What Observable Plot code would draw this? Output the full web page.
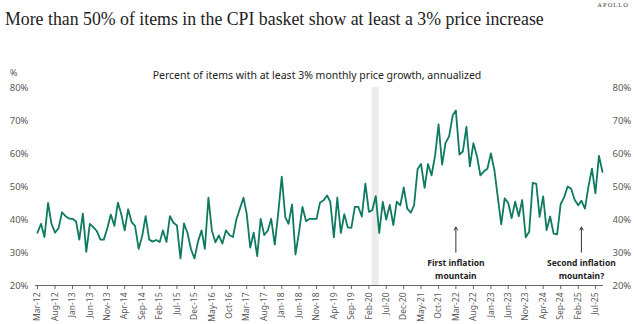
<!DOCTYPE html>
<html><head><meta charset="utf-8">
<script src="https://cdn.jsdelivr.net/npm/d3@7"></script>
<script src="https://cdn.jsdelivr.net/npm/@observablehq/plot@0.6"></script>
<style>
body{margin:0;background:#fff;}
#wrap{position:relative;width:634px;height:324px;overflow:hidden;background:#fff;}
.t{position:absolute;white-space:nowrap;}
#chart{position:absolute;left:0;top:0;}
</style></head><body>
<div id="wrap">
<div id="chart"></div>
<div class="t" style="left:5px;top:9px;font-family:'Liberation Serif',serif;font-size:17.8px;color:#222;">More than 50% of items in the CPI basket show at least a 3% price increase</div>
<div class="t" style="right:5px;top:1px;font-family:'Liberation Serif',serif;font-size:6.5px;letter-spacing:1px;color:#444;">APOLLO</div>
<div class="t" style="left:10px;top:66px;font-family:'Noto Sans',sans-serif;font-size:9px;color:#595959;">%</div>
<div class="t" style="left:0;width:634px;text-align:center;top:68px;font-family:'Noto Sans',sans-serif;font-size:10.5px;color:#222;">Percent of items with at least 3% monthly price growth, annualized</div>
</div>
<script>
// Monthly series, starting March 2012
const startYear = 2012, startMonth = 3;
const values = [
36,38.7,34.7,45,38.7,36,37.4,42.2,41,40.3,40.2,39.4,33.9,41.8,30.2,38.7,37.7,36.5,33.9,33.9,
37.4,41.5,38.1,45.1,41.8,36.7,43.1,39.2,38,31.1,35,41,33.9,33.3,33.8,33.2,36.7,33.2,41,39,
38.2,28.2,38.8,36,31,28.2,33.3,36.7,31.1,46.6,36.7,33.1,35.2,32.7,36.7,35.3,34.7,40,43.3,46.6,
41.8,31.5,36,28.9,40.2,35.3,36.6,40.2,32.4,41.8,53,40.7,38.7,44.6,29.4,36.2,43.8,39.5,40.2,40.2,
40.2,45.1,45.8,47.3,45.3,34.6,46.6,35.9,41.6,37.6,37.5,43.8,43.8,40.9,50.9,42.3,42.8,47.1,35.9,45.3,
40,44.4,38.3,45.4,44.3,49.7,43.3,42.1,44.3,55.3,56.8,49.6,56.8,53.4,59.5,68.8,56.6,63.2,65.2,71.5,
73,59.7,60.6,68.1,56.1,63.1,59.2,53.4,54.6,55.4,60,54.8,47,38.5,46.4,45,40.4,45.4,41,45.9,
34.6,36.3,51.1,50.8,40.8,47,36.8,40.9,35.7,35.5,44.7,46.7,50,49.3,46,44.3,45.7,43.3,49.9,55.4,
47.9,59.3,54.4
];
const tickLabels = ["Mar-12","Aug-12","Jan-13","Jun-13","Nov-13","Apr-14","Sep-14","Feb-15","Jul-15","Dec-15",
"May-16","Oct-16","Mar-17","Aug-17","Jan-18","Jun-18","Nov-18","Apr-19","Sep-19","Feb-20","Jul-20","Dec-20",
"May-21","Oct-21","Mar-22","Aug-22","Jan-23","Jun-23","Nov-23","Apr-24","Sep-24","Feb-25","Jul-25"];
const yTicks = [20,30,40,50,60,70,80];
const recession = ["2020-03-01","2020-04-30"];
const annotationDates = ["2022-03-01","2025-03-01"];
const annotationLabels = ["First inflation\nmountain","Second inflation\nmountain?"];

const parseTick = d3.utcParse("%b-%y");
const data = values.map((v,i)=>({date:new Date(Date.UTC(startYear, startMonth-1+i, 1)), value:v}));
const ticks = tickLabels.map(parseTick);
const band = [{x1:new Date(recession[0]), x2:new Date(recession[1])}];
const ann = annotationDates.map((d,i)=>({date:new Date(d), label:annotationLabels[i]}));

const chart = Plot.plot({
  width:634, height:324,
  marginTop:87, marginBottom:39, marginLeft:37, marginRight:32,
  style:{fontFamily:"'Noto Sans', sans-serif", fontSize:"9px", color:"#595959", background:"transparent", overflow:"visible"},
  x:{type:"utc", domain:[data[0].date, data[data.length-1].date], label:null},
  y:{domain:[20,80], label:null},
  marks:[
    Plot.rect(band,{x1:"x1", x2:"x2", y1:20, y2:80, fill:"#ececec"}),
    Plot.axisY({anchor:"left", ticks:yTicks, tickSize:0, tickPadding:9, tickFormat:d=>d+"%", fill:"#595959", fontSize:9.5, label:null}),
    Plot.axisY({anchor:"right", ticks:yTicks, tickSize:0, tickPadding:10, tickFormat:d=>d+"%", fill:"#595959", fontSize:9.5, label:null}),
    Plot.ruleY([20],{stroke:"#666", strokeWidth:1, insetLeft:-2, insetRight:-1}),
    Plot.axisX({ticks:ticks, tickFormat:d3.utcFormat("%b-%y"), tickRotate:-90, tickSize:4, tickPadding:3, stroke:"#666", fill:"#595959", fontSize:8.5, label:null}),
    Plot.lineY(data,{x:"date", y:"value", stroke:"#0e7a60", strokeWidth:1.8}),
    Plot.arrow(ann,{x1:"date", x2:"date", y1:30.1, y2:37.7, stroke:"#333", strokeWidth:1, headLength:5}),
    Plot.text(ann,{x:"date", y:26, text:"label", fontWeight:"bold", fontSize:8.5, fill:"#222", lineHeight:1.45, lineAnchor:"top", dy:-8})
  ]
});
document.getElementById("chart").appendChild(chart);
</script>
</body></html>
